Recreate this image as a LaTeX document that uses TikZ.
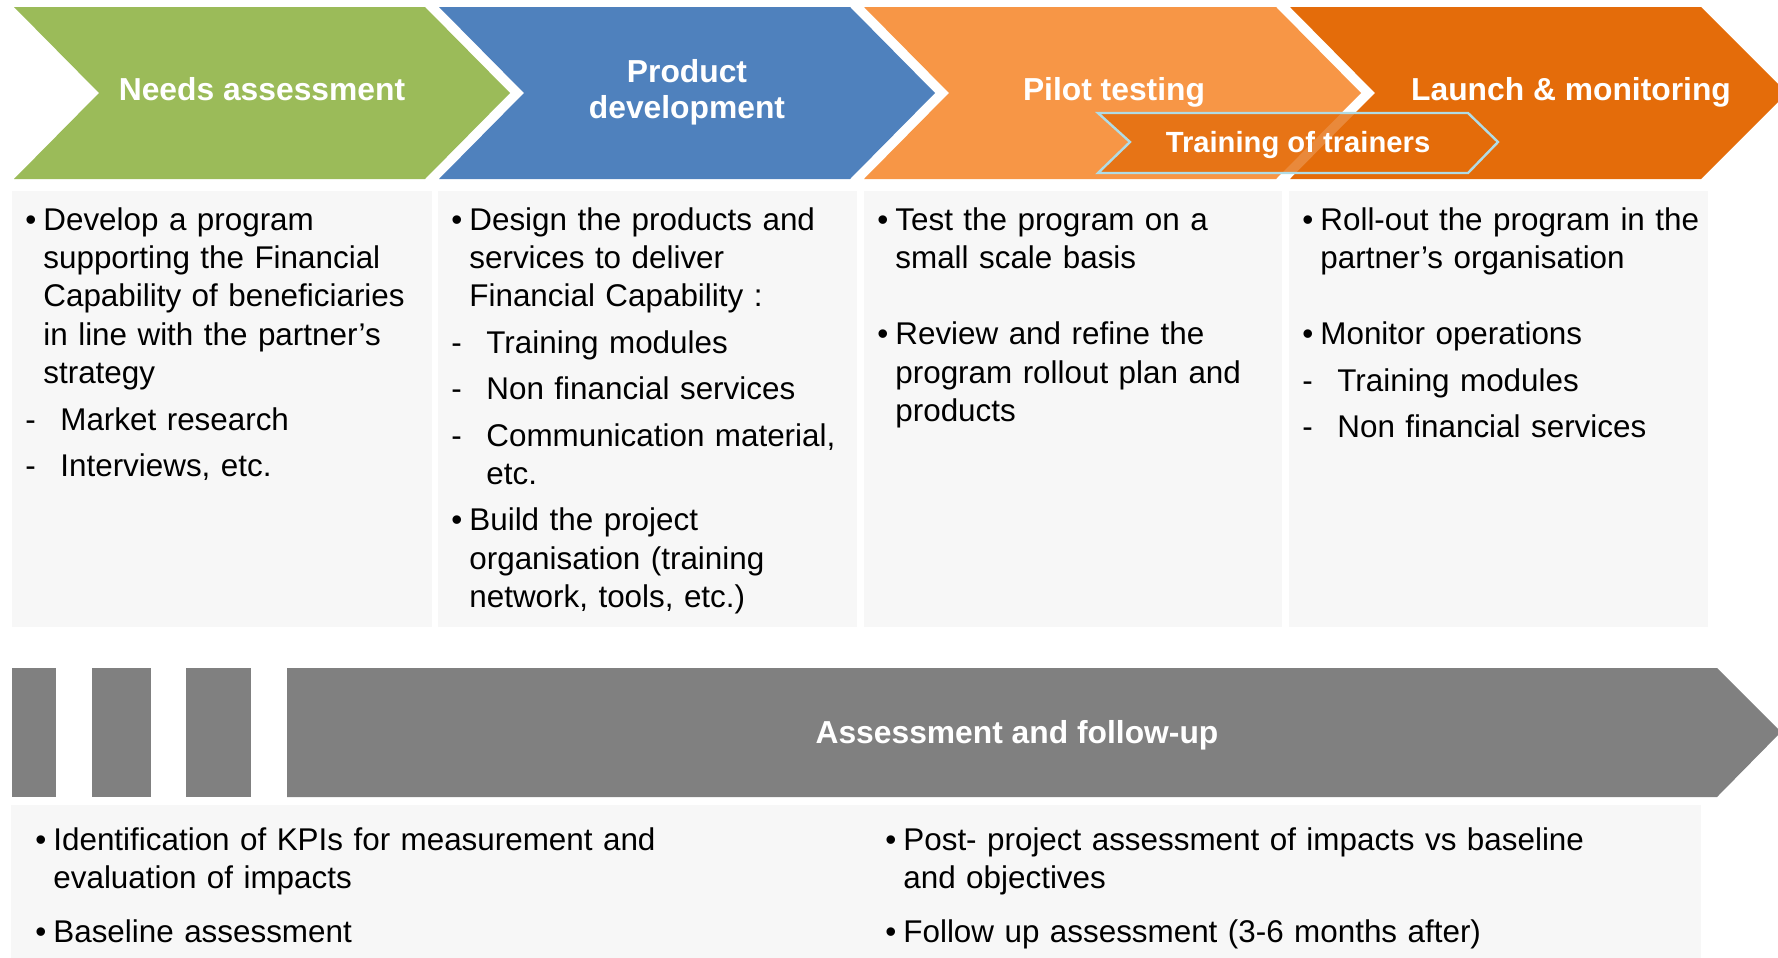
\documentclass[tikz,border=0pt]{standalone}
\usepackage{fontspec}
\setmainfont{Liberation Sans}

\definecolor{needsgreen}{HTML}{9BBB59}
\definecolor{productblue}{HTML}{4F81BD}
\definecolor{pilotorange}{HTML}{F79646}
\definecolor{launchorange}{HTML}{E46C0A}
\definecolor{followgray}{HTML}{808080}
\definecolor{panelgray}{HTML}{F7F7F7}
\definecolor{trainerline}{HTML}{B0DCE6}

\newcommand{\bitem}[2][4pt]{\hangindent=9pt\hangafter=1\noindent\makebox[9pt][l]{\textbullet}#2\par\vspace{#1}}
\newcommand{\ditem}[2][4pt]{\hangindent=17.5pt\hangafter=1\noindent\makebox[17.5pt][l]{-}#2\par\vspace{#1}}

\begin{document}
\begin{tikzpicture}[x=0.5pt, y=-0.5pt,
  chevtitle/.style={text=white, inner sep=0pt, font=\fontsize{15.9}{18}\selectfont\bfseries, align=center},
  bodytext/.style={anchor=north west, inner sep=0pt, text width=210pt, align=left, font=\fontsize{15.7}{19.2}\selectfont},
  panel/.style={fill=panelgray}]
\useasboundingbox (0,0) rectangle (1778,958);

\fill[needsgreen] (14,7) -- (425,7) -- (510,93) -- (425,179) -- (14,179) -- (99,93) -- cycle;
\fill[productblue] (439,7) -- (850,7) -- (935,93) -- (850,179) -- (439,179) -- (524,93) -- cycle;
\fill[pilotorange] (864,7) -- (1276,7) -- (1361,93) -- (1276,179) -- (864,179) -- (949,93) -- cycle;
\fill[launchorange] (1290,7) -- (1701,7) -- (1787,93) -- (1701,179) -- (1290,179) -- (1375,93) -- cycle;

\node[chevtitle, anchor=base] (needs) at (262,100) {Needs assessment};
\node[chevtitle] (product) at (687,92) {Product\\development};
\node[chevtitle, anchor=base] (pilot) at (1114,100) {Pilot testing};
\node[chevtitle, anchor=base] (launch) at (1571,100) {Launch \& monitoring};

\fill[launchorange, fill opacity=0.8] (1098,113) -- (1468,113) -- (1498,142) -- (1468,173) -- (1098,173) -- (1130,142) -- cycle;
\draw[trainerline, line width=1.2pt] (1098,113) -- (1468,113) -- (1498,142) -- (1468,173) -- (1098,173) -- (1130,142) -- cycle;
\node[chevtitle, anchor=base, font=\fontsize{14.6}{17}\selectfont\bfseries] (trainers) at (1298,152.5) {Training of trainers};

\fill[panel] (12,191) rectangle (432,627);
\fill[panel] (438,191) rectangle (857,627);
\fill[panel] (864,191) rectangle (1282,627);
\fill[panel] (1289,191) rectangle (1708,627);

\node[bodytext] (needsbody) at (25,207) {\bitem{Develop a program\newline supporting the Financial\newline Capability of beneficiaries\newline in line with the partner’s\newline strategy}\ditem{Market research}\ditem{Interviews, etc.}};
\node[bodytext] (productbody) at (451,207) {\bitem{Design the products and\newline services to deliver\newline Financial Capability :}\ditem{Training modules}\ditem{Non financial services}\ditem{Communication material,\newline etc.}\bitem{Build the project\newline organisation (training\newline network, tools, etc.)}};
\node[bodytext] (pilotbody) at (877,207) {\bitem[19pt]{Test the program on a\newline small scale basis}\bitem{Review and refine the\newline program rollout plan and\newline products}};
\node[bodytext] (launchbody) at (1302,207) {\bitem[19pt]{Roll-out the program in the\newline partner’s organisation}\bitem{Monitor operations}\ditem{Training modules}\ditem{Non financial services}};

\fill[followgray] (12,668) rectangle (56,797);
\fill[followgray] (92,668) rectangle (151,797);
\fill[followgray] (186,668) rectangle (251,797);
\fill[followgray] (287,668) -- (1717,668) -- (1781,732) -- (1717,797) -- (287,797) -- cycle;
\node[chevtitle, anchor=base] (followup) at (1017,743) {Assessment and follow-up};

\fill[panel] (11,805) rectangle (1701,958);
\node[bodytext, text width=380pt] (kpibody) at (35,827) {\bitem[8pt]{Identification of KPIs for measurement and\newline evaluation of impacts}\bitem{Baseline assessment}};
\node[bodytext, text width=380pt] (postbody) at (885,827) {\bitem[8pt]{Post- project assessment of impacts vs baseline\newline and objectives}\bitem{Follow up assessment (3-6 months after)}};
\end{tikzpicture}
\end{document}
